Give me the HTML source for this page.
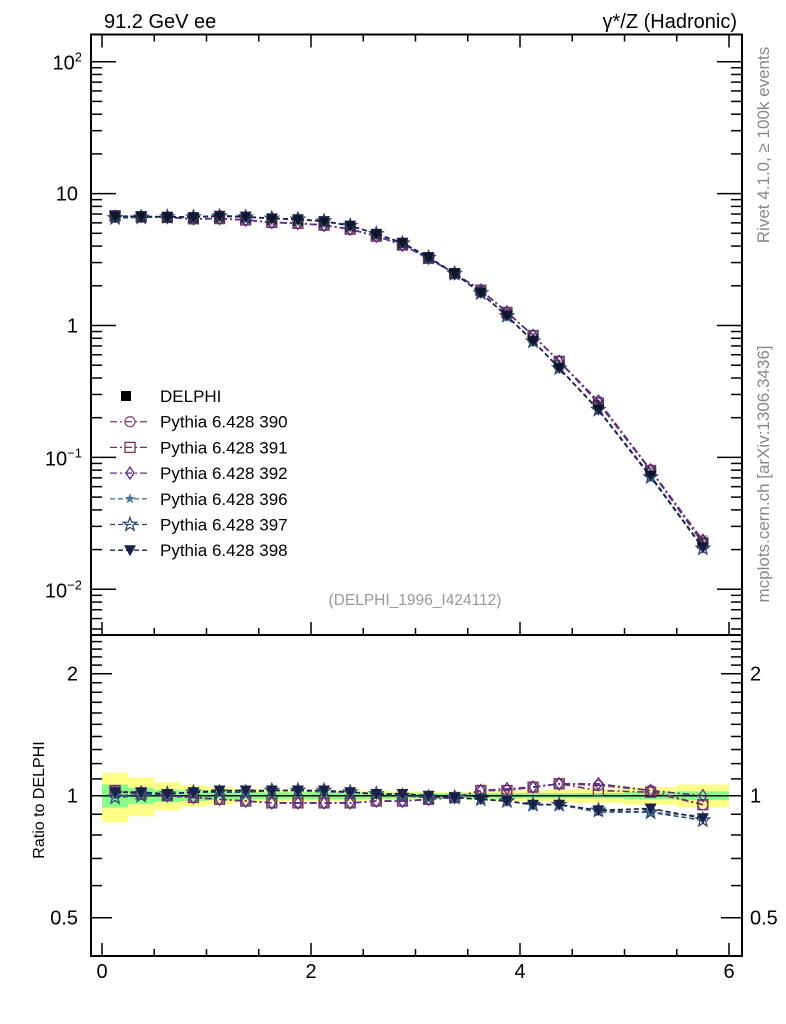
<!DOCTYPE html>
<html><head><meta charset="utf-8">
<style>
html,body{margin:0;padding:0;background:#fff;}
svg{display:block;font-family:"Liberation Sans",sans-serif;}
</style></head>
<body>
<svg id="chart" width="786" height="1024" viewBox="0 0 786 1024">
<g id="bands"></g>
<g id="ticks"></g>
<g id="series"></g>
<rect x="91" y="34.5" width="651" height="600.5" fill="none" stroke="#000" stroke-width="2"/>
<rect x="91" y="635" width="651" height="321" fill="none" stroke="#000" stroke-width="2"/>
<text x="104" y="28" font-size="20">91.2 GeV ee</text>
<text x="737" y="28" font-size="20" text-anchor="end">γ*/Z (Hadronic)</text>
<text transform="translate(769,145) rotate(-90)" font-size="17" fill="#888" text-anchor="middle">Rivet 4.1.0, ≥ 100k events</text>
<text transform="translate(769,474) rotate(-90)" font-size="17" fill="#888" text-anchor="middle">mcplots.cern.ch [arXiv:1306.3436]</text>
<text x="415" y="605" font-size="15.5" fill="#999" text-anchor="middle">(DELPHI_1996_I424112)</text>
<text transform="translate(44,800) rotate(-90)" font-size="16" text-anchor="middle">Ratio to DELPHI</text>
<g id="legend"></g>
</svg>
<script>
const xBins = [0.125,0.375,0.625,0.875,1.125,1.375,1.625,1.875,2.125,2.375,2.625,2.875,3.125,3.375,3.625,3.875,4.125,4.375,4.75,5.25,5.75];
const binEdges = [0,0.25,0.5,0.75,1,1.25,1.5,1.75,2,2.25,2.5,2.75,3,3.25,3.5,3.75,4,4.25,4.5,5,5.5,6];
const delphi = [6.6,6.6,6.6,6.5,6.6,6.5,6.3,6.2,6.0,5.6,4.9,4.2,3.3,2.5,1.8,1.22,0.80,0.50,0.25,0.078,0.0235];
const bandYellow = [0.14,0.11,0.08,0.06,0.05,0.04,0.035,0.03,0.03,0.03,0.03,0.025,0.02,0.02,0.025,0.03,0.03,0.035,0.04,0.05,0.065];
const bandGreen = [0.065,0.045,0.035,0.03,0.025,0.02,0.02,0.02,0.02,0.02,0.018,0.015,0.015,0.015,0.015,0.015,0.015,0.015,0.015,0.02,0.025];
const r390 = [1.03,1.01,1.0,0.99,0.98,0.97,0.96,0.96,0.96,0.96,0.97,0.97,0.98,0.99,1.03,1.03,1.05,1.07,1.06,1.03,0.95];
const r391 = [1.03,1.01,1.0,0.99,0.98,0.97,0.96,0.96,0.96,0.96,0.97,0.97,0.98,0.99,1.03,1.03,1.05,1.07,1.03,1.02,0.95];
const r392 = [1.02,1.02,1.0,0.99,0.98,0.97,0.96,0.96,0.96,0.96,0.97,0.97,0.98,0.99,1.03,1.04,1.05,1.07,1.07,1.03,1.0];
const r396 = [1.0,1.01,1.01,1.02,1.03,1.02,1.03,1.03,1.02,1.02,1.01,1.0,0.99,0.99,0.98,0.97,0.95,0.95,0.91,0.91,0.89];
const r397 = [0.99,1.0,1.01,1.02,1.02,1.02,1.03,1.03,1.03,1.02,1.01,1.0,0.99,0.99,0.98,0.97,0.95,0.95,0.92,0.91,0.87];
const r398 = [1.02,1.02,1.01,1.02,1.03,1.03,1.03,1.03,1.03,1.02,1.01,1.01,1.0,0.99,0.98,0.97,0.95,0.95,0.92,0.93,0.88];
const seriesNames = ["Pythia 6.428 390","Pythia 6.428 391","Pythia 6.428 392","Pythia 6.428 396","Pythia 6.428 397","Pythia 6.428 398"];
const xTicks = [0,2,4,6];

const NS="http://www.w3.org/2000/svg";
const X = v => 102 + v*104.5;
const Y = v => 325.5 - Math.log10(v)*131.9;
const R = v => 795.7 - Math.log10(v)*405.3;
function mk(tag, attrs, parent){const e=document.createElementNS(NS,tag);for(const k in attrs)e.setAttribute(k,attrs[k]);parent.appendChild(e);return e;}
const bands=document.getElementById('bands'), ticks=document.getElementById('ticks'), series=document.getElementById('series'), legend=document.getElementById('legend'), svg=document.getElementById('chart');

binEdges.slice(0,-1).forEach((e,i)=>{
  const x0=X(e), x1=X(binEdges[i+1]);
  const y=mk('rect',{x:x0,y:R(1+bandYellow[i]),width:x1-x0,height:R(1-bandYellow[i])-R(1+bandYellow[i]),fill:'#ffff88'},bands);
  
  
  const g=mk('rect',{x:x0,y:R(1+bandGreen[i]),width:x1-x0,height:R(1-bandGreen[i])-R(1+bandGreen[i]),fill:'#88ff88'},bands);
  
  
});
const ref=mk('line',{x1:91,x2:742,y1:R(1),y2:R(1),stroke:'#000','stroke-width':1.5},bands);



function tk(x1,y1,x2,y2){mk('line',{x1,y1,x2,y2,stroke:'#000','stroke-width':1.5},ticks);}
function lbl(x,y,txt,anchor,name,sup){const t=mk('text',{x,y,'font-size':20,'text-anchor':anchor},svg);t.textContent=txt;if(sup){const s=mk('tspan',{dy:-8,'font-size':13},t);s.textContent=sup;}
  
  }
for(let v=0; v<=6.01; v+=0.5){
  const maj = Math.abs(v-Math.round(v/2)*2)<1e-6; const L=maj?13:7; const x=X(v);
  tk(x,34.5,x,34.5+L); tk(x,635,x,635-L); tk(x,956,x,956-L);
}
xTicks.forEach(v=>lbl(X(v),978,String(v),'middle','x-tick-'+v));
for(let d=-3; d<=2; d++){for(let m=1;m<10;m++){const v=m*Math.pow(10,d);const y=Y(v);if(y<35||y>634)continue;const L=m===1?24:10;tk(92,y,92+L,y);tk(741,y,741-L,y);}}
lbl(82,Y(100)+8,'10','end','y-tick-100','2');
lbl(78,Y(10)+7,'10','end','y-tick-10');
lbl(78,Y(1)+7,'1','end','y-tick-1');
lbl(82,Y(0.1)+8,'10','end','y-tick-0.1','−1');
lbl(82,Y(0.01)+8,'10','end','y-tick-0.01','−2');
[0.5,0.6,0.7,0.8,0.9,1,1.1,1.2,1.3,1.4,1.5,1.6,1.7,1.8,1.9,2,2.1,2.2,2.3,2.4].forEach(v=>{const y=R(v);const maj=(v===0.5||v===1||v===2);const L=maj?20:10;tk(92,y,92+L,y);tk(741,y,741-L,y);});
[[2,'2'],[1,'1'],[0.5,'0.5']].forEach(([v,s])=>{lbl(78,R(v)+7,s,'end','ratio-tick-left-'+s);lbl(750,R(v)+7,s,'start','ratio-tick-right-'+s);});

function star(cx,cy,r){let p='';for(let i=0;i<10;i++){const a=-Math.PI/2+i*Math.PI/5;const rr=i%2?r*0.42:r;p+=(i?'L':'M')+(cx+rr*Math.cos(a)).toFixed(1)+' '+(cy+rr*Math.sin(a)).toFixed(1);}return p+'Z';}
function marker(type,cx,cy,col,parent){
  if(type==='circle')return mk('circle',{cx,cy,r:5,fill:'none',stroke:col,'stroke-width':1.3},parent);
  if(type==='square')return mk('rect',{x:cx-5,y:cy-5,width:10,height:10,fill:'none',stroke:col,'stroke-width':1.3},parent);
  if(type==='dsquare')return mk('rect',{x:cx-5,y:cy-5,width:10,height:10,fill:col},parent);
  if(type==='diamond')return mk('path',{d:`M${cx} ${cy-6}L${cx+4} ${cy}L${cx} ${cy+6}L${cx-4} ${cy}Z`,fill:'none',stroke:col,'stroke-width':1.3},parent);
  if(type==='starS')return mk('path',{d:star(cx,cy,5.5),fill:col},parent);
  if(type==='starO')return mk('path',{d:star(cx,cy,7),fill:'none',stroke:col,'stroke-width':1.3},parent);
  if(type==='tri')return mk('path',{d:`M${cx-6} ${cy-5}L${cx+6} ${cy-5}L${cx} ${cy+6}Z`,fill:col},parent);
}
const ratios=[r390,r391,r392,r396,r397,r398];
const cols=['#8a4a7c','#6e3558','#5b2d8c','#4d7896','#2c4a6c','#1a2148'];
const types=['circle','square','diamond','starS','starO','tri'];
const dashes=['7 3 2 3','7 3 2 3','7 3 2 3','5 3','5 3','5 3'];
ratios.forEach((r,si)=>{
  const g=mk('g',{},series);
  
  
  const top=xBins.map((x,i)=>X(x).toFixed(1)+','+Y(delphi[i]*r[i]).toFixed(1)).join(' ');
  mk('polyline',{points:top,fill:'none',stroke:cols[si],'stroke-width':1.6,'stroke-dasharray':dashes[si]},g);
  const bot=xBins.map((x,i)=>X(x).toFixed(1)+','+R(r[i]).toFixed(1)).join(' ');
  mk('polyline',{points:bot,fill:'none',stroke:cols[si],'stroke-width':1.6,'stroke-dasharray':dashes[si]},g);
  xBins.forEach((x,i)=>{
    const m1=marker(types[si],X(x),Y(delphi[i]*r[i]),cols[si],g);
    
    
    const m2=marker(types[si],X(x),R(r[i]),cols[si],g);
    
    
  });
});
xBins.forEach((x,i)=>{
  const m=marker('dsquare',X(x),Y(delphi[i]),'#000',series);
  
  
  m.setAttribute('opacity','0.35');
});

const ly0=396, lsp=25.7;
const e0=mk('g',{},legend);


marker('dsquare',126,ly0,'#000',e0);
const t0=mk('text',{x:160,y:ly0+6,'font-size':17},e0);t0.textContent='DELPHI';
seriesNames.forEach((n,si)=>{
  const y=ly0+lsp*(si+1);
  const e=mk('g',{},legend);
  
  
  mk('line',{x1:110,x2:150,y1:y,y2:y,stroke:cols[si],'stroke-width':1.3,'stroke-dasharray':dashes[si]},e);
  marker(types[si],130,y,cols[si],e);
  const t=mk('text',{x:160,y:y+6,'font-size':17},e);t.textContent=n;
});
</script>
</body></html>
